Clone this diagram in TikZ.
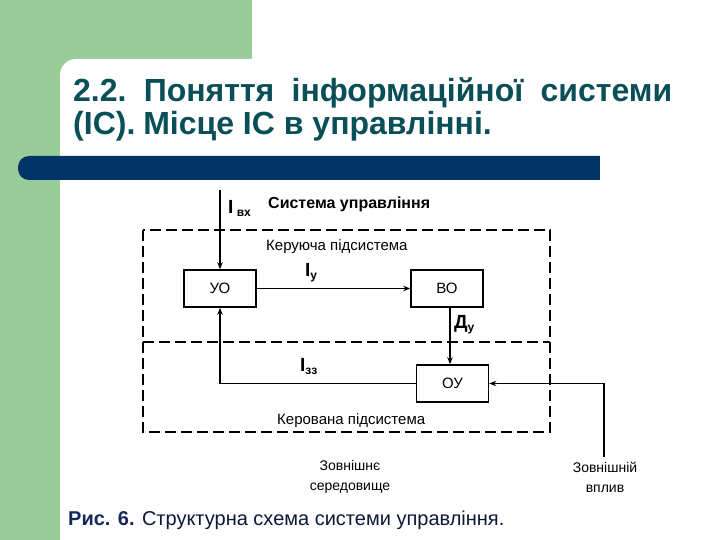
\documentclass[tikz,border=0pt]{standalone}
\usepackage{fontspec}
\setmainfont{Liberation Sans}
\usetikzlibrary{arrows.meta}
\definecolor{bggreen}{RGB}{153,204,153}
\definecolor{titleteal}{RGB}{10,78,88}
\definecolor{barblue}{RGB}{0,51,102}
\definecolor{capblue}{RGB}{20,40,90}
\tikzset{
  box/.style={draw, line width=1.5pt, minimum width=72pt, minimum height=37pt, inner sep=0pt, font=\fontsize{15}{16}\selectfont},
  arr/.style={line width=1.2pt, -{Stealth[length=7pt,width=5.5pt]}},
  frame/.style={line width=1.4pt, dash pattern=on 11pt off 5pt},
  lbl/.style={inner sep=0pt, anchor=base west},
}
\begin{document}
\begin{tikzpicture}[x=1pt,y=-1pt]
\useasboundingbox (0,0) rectangle (720,540);
\clip (0,0) rectangle (720,540);
% background
\fill[white] (0,0) rectangle (720,540);
\fill[bggreen] (0,0) rectangle (252,75);
\fill[bggreen] (0,0) rectangle (60,540);
\fill[white, rounded corners=16pt] (60,59) rectangle (760,580);
% bar
\fill[barblue, rounded corners=11pt] (18,156) rectangle (620,180);
\fill[white] (600,150) rectangle (640,185);
% title
\node[lbl, text=titleteal, font=\bfseries\fontsize{32}{33}\selectfont] (t1) at (73,102) {\makebox[599pt][s]{2.2.\ \ Поняття\ \ інформаційної\ \ системи}};
\node[lbl, text=titleteal, font=\bfseries\fontsize{32}{33}\selectfont] (t2) at (73,135) {(ІС).\kern-1pt\ Місце ІС в управлінні.};
% frames
\draw[frame] (143,230) rectangle (550,432);
\draw[frame] (143,342) -- (550,342);
% boxes
\node[box] (uo) at (220,288.5) {УО};
\node[box] (vo) at (447,288.5) {ВО};
\node[box] (ou) at (452.5,383.5) {ОУ};
% texts
\node[lbl, font=\bfseries\fontsize{16}{17}\selectfont] (su) at (268,208) {Система управління};
\node[lbl, font=\fontsize{15}{16}\selectfont] (kp) at (266,251) {Керуюча підсистема};
\node[lbl, font=\fontsize{15}{16}\selectfont] (kv) at (277,424) {Керована підсистема};
\node[lbl, font=\bfseries\fontsize{19}{20}\selectfont] (ivx) at (228,214) {I\raisebox{-3pt}{\fontsize{12}{12}\selectfont\ вх}};
\node[lbl, font=\bfseries\fontsize{19}{20}\selectfont] (iy) at (305,276) {I\raisebox{-3pt}{\fontsize{12}{12}\selectfont у}};
\node[lbl, font=\bfseries\fontsize{19}{20}\selectfont] (dy) at (454,328) {Д\raisebox{-3pt}{\fontsize{12}{12}\selectfont у}};
\node[lbl, font=\bfseries\fontsize{19}{20}\selectfont] (izz) at (300,371) {I\raisebox{-3pt}{\fontsize{12}{12}\selectfont зз}};
\node[align=center, font=\fontsize{14}{20}\selectfont, inner sep=0pt] (zs) at (350,477) {Зовнішнє\\середовище};
\node[align=center, font=\fontsize{14}{20}\selectfont, inner sep=0pt] (zv) at (605,477) {Зовнішній\\вплив};
% caption
\node[lbl, font=\fontsize{20}{21}\selectfont] (cap) at (68,525) {\textcolor{capblue}{\textbf{Рис. 6.}} \textcolor{capblue!60!black}{Структурна схема системи управління.}};
% connectors
\coordinate (in) at (220,190);
\coordinate (ext) at (604,457);
\draw[arr] (in) -- (uo.north);
\draw[arr] (uo) -- (vo);
\draw[arr, line width=2pt] ([xshift=3pt]vo.south) -- ([xshift=3pt]vo.south |- ou.north);
\draw[arr] (ou.west) -| (uo.south);
\draw[arr] (ext) |- (ou.east);
\end{tikzpicture}
\end{document}
